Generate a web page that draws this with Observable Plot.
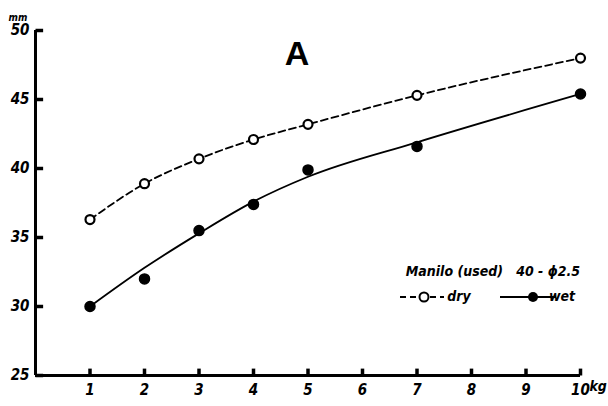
<!DOCTYPE html>
<html><head><meta charset="utf-8">
<script src="https://cdn.jsdelivr.net/npm/d3@7"></script>
<script src="https://cdn.jsdelivr.net/npm/@observablehq/plot@0.6"></script>
<style>
body{margin:0;background:#fff;}
#chart{position:relative;width:608px;height:406px;}
svg{font-family:"DejaVu Sans Condensed","DejaVu Sans",sans-serif;}
</style></head>
<body><div id="chart"></div>
<script>
const loads = [1, 2, 3, 4, 5, 7, 10];
const dry = [36.3, 38.9, 40.7, 42.1, 43.2, 45.3, 48.0];
const wet = [30.0, 32.0, 35.5, 37.4, 39.9, 41.6, 45.4];
const wetFit = [30.0, 32.8, 35.3, 37.6, 39.4, 41.9, 45.4];
const xTicks = [1, 2, 3, 4, 5, 6, 7, 8, 9, 10];
const yTicks = [25, 30, 35, 40, 45, 50];

const dryData = loads.map((x, i) => ({x, y: dry[i]}));
const wetData = loads.map((x, i) => ({x, y: wet[i]}));
const fitData = loads.map((x, i) => ({x, y: wetFit[i]}));
const xTickData = xTicks.map(x => ({x, y1: yTicks[0], y2: yTicks[0] + 0.5}));
const yTickData = yTicks.map(y => ({y, x1: 0, x2: 0.14}));

const plot = Plot.plot({
  width: 608, height: 406,
  marginLeft: 35, marginRight: 28, marginTop: 30, marginBottom: 31,
  style: {fontFamily: "'DejaVu Sans Condensed', 'DejaVu Sans', sans-serif", fontSize: "15px", fontStyle: "italic"},
  x: {domain: [0, 10]},
  y: {domain: [25, 50]},
  marks: [
    Plot.axisX({ticks: xTicks, tickSize: 0, tickPadding: 9, tickFormat: d => d, fontWeight: "bold", fontSize: 15, label: null}),
    Plot.axisY({ticks: yTicks, tickSize: 0, tickPadding: 6, tickFormat: d => d, fontWeight: "bold", fontSize: 15, label: null}),
    Plot.ruleX([0], {strokeWidth: 3}),
    Plot.ruleY([yTicks[0]], {strokeWidth: 3}),
    Plot.link(xTickData, {x1: "x", x2: "x", y1: "y1", y2: "y2", strokeWidth: 3.5, stroke: "#000"}),
    Plot.link(yTickData, {x1: "x1", x2: "x2", y1: "y", y2: "y", strokeWidth: 3.5, stroke: "#000"}),
    Plot.line(dryData, {x: "x", y: "y", curve: "monotone-x", strokeWidth: 1.8, strokeDasharray: "7,4", stroke: "black"}),
    Plot.line(fitData, {x: "x", y: "y", curve: "monotone-x", strokeWidth: 1.8, stroke: "black"}),
    Plot.dot(dryData, {x: "x", y: "y", r: 4.5, fill: "white", stroke: "black", strokeWidth: 2.2}),
    Plot.dot(wetData, {x: "x", y: "y", r: 5, fill: "black", stroke: "black"}),
    Plot.text(["A"], {frameAnchor: "top", dx: -11, dy: 10, fontSize: 34, fontWeight: "bold", fontStyle: "normal", fontFamily: "Liberation Sans, Arial, sans-serif"}),
    Plot.text(["mm"], {frameAnchor: "top-left", dx: -27, dy: -17, fontSize: 10, fontWeight: "bold", textAnchor: "start"}),
    Plot.text(["kg"], {frameAnchor: "bottom-right", dx: 9, dy: 15, fontSize: 14, fontWeight: "bold", textAnchor: "start"})
  ]
});
document.getElementById("chart").appendChild(plot);

// legend
const svg = d3.select(plot);
const g = svg.append("g").attr("font-style", "italic").attr("font-weight", "bold").attr("font-size", 14);
g.append("text").attr("x", 580).attr("y", 276).attr("text-anchor", "end").text("Manilo (used)   40 - \u03D52.5");
g.append("line").attr("x1", 400).attr("x2", 444).attr("y1", 297).attr("y2", 297).attr("stroke", "black").attr("stroke-width", 1.8).attr("stroke-dasharray", "6,4");
g.append("circle").attr("cx", 424).attr("cy", 297).attr("r", 4.5).attr("fill", "white").attr("stroke", "black").attr("stroke-width", 2);
g.append("text").attr("x", 459).attr("y", 301).text("dry");
g.append("line").attr("x1", 500).attr("x2", 556).attr("y1", 297).attr("y2", 297).attr("stroke", "black").attr("stroke-width", 1.8);
g.append("circle").attr("cx", 533).attr("cy", 297).attr("r", 5).attr("fill", "black");
g.append("text").attr("x", 562).attr("y", 301).text("wet");
</script></body></html>
